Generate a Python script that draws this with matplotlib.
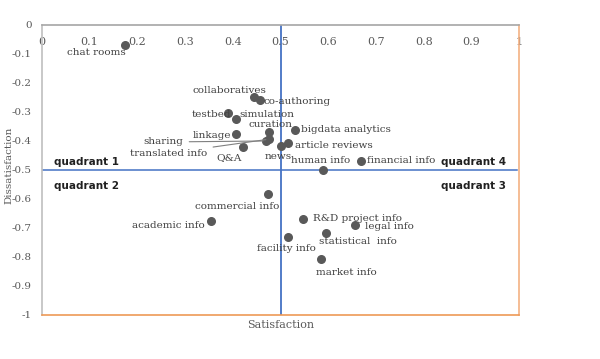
import matplotlib.pyplot as plt

# satisfaction (x) / dissatisfaction (y) per information service
names = ['chat rooms', 'collaboratives', 'co-authoring', 'testbed', 'simulation',
         'linkage', 'curation', 'bigdata analytics', 'sharing', 'translated info',
         'Q&A', 'news', 'article reviews', 'human info', 'financial info',
         'commercial info', 'academic info', 'R&D project info', 'legal info',
         'statistical  info', 'facility info', 'market info']
satisfaction = [0.174, 0.445, 0.458, 0.391, 0.407, 0.406, 0.475, 0.530, 0.469, 0.475,
                0.421, 0.501, 0.515, 0.590, 0.668, 0.473, 0.355, 0.547, 0.656,
                0.595, 0.515, 0.584]
dissatisfaction = [-0.069, -0.250, -0.259, -0.305, -0.325, -0.376, -0.368, -0.362, -0.400, -0.394,
                   -0.421, -0.417, -0.406, -0.500, -0.469, -0.583, -0.677, -0.669, -0.690,
                   -0.718, -0.731, -0.807]

# label placement: offset in pixels from the point, horizontal alignment
label_pos = {
    'chat rooms': (1, -8, 'right'),
    'collaboratives': (-25, 7, 'center'),
    'co-authoring': (3, -1, 'left'),
    'testbed': (3, -1, 'right'),
    'simulation': (3, 5, 'left'),
    'linkage': (-4, -1, 'right'),
    'curation': (2, 7, 'center'),
    'bigdata analytics': (6, 0, 'left'),
    'sharing': (-82, -1, 'right'),
    'translated info': (-61, -14, 'right'),
    'Q&A': (-14, -11, 'center'),
    'news': (-3, -11, 'center'),
    'article reviews': (7, -3, 'left'),
    'human info': (-3, 9, 'center'),
    'financial info': (6, 0, 'left'),
    'commercial info': (-30, -12, 'center'),
    'academic info': (-6, -4, 'right'),
    'R&D project info': (10, 0, 'left'),
    'legal info': (10, -1, 'left'),
    'statistical  info': (32, -8, 'center'),
    'facility info': (-1, -12, 'center'),
    'market info': (26, -13, 'center'),
}
leader = ['sharing', 'translated info']

gray = '#595959'
fig = plt.figure(figsize=(6, 3.59), dpi=100)
ax = fig.add_axes([0.0695, 0.1226, 0.796, 0.8078])

ax.axvline(0.5, color='#4472c4', lw=1.3, zorder=1)
ax.axhline(-0.5, xmin=0, xmax=0.995, color='#4472c4', lw=1.1, zorder=1)

ax.scatter(satisfaction, dissatisfaction, s=30, color=gray, zorder=3)

for n, x, y in zip(names, satisfaction, dissatisfaction):
    dx, dy, ha = label_pos[n]
    arrow = None
    if n in leader:
        arrow = dict(arrowstyle='-', color='#808080', lw=0.8, shrinkA=2, shrinkB=2)
    ax.annotate(n, (x, y), xytext=(dx, dy), textcoords='offset pixels',
                ha=ha, va='center', fontsize=7.5, family='DejaVu Serif',
                color='#404040', arrowprops=arrow, zorder=4)

qfont = dict(fontsize=7.5, family='DejaVu Sans', weight='bold', color='#202020', va='center')
ax.text(0.026, -0.472, 'quadrant 1', ha='left', **qfont)
ax.text(0.026, -0.555, 'quadrant 2', ha='left', **qfont)
ax.text(0.972, -0.472, 'quadrant 4', ha='right', **qfont)
ax.text(0.972, -0.555, 'quadrant 3', ha='right', **qfont)

ax.set_xlim(0, 1)
ax.set_ylim(-1, 0)
xt = [i / 10 for i in range(11)]
yt = [-i / 10 for i in range(11)]
ax.set_xticks(xt)
ax.set_xticklabels(['0'] + ['%.1f' % v for v in xt[1:-1]] + ['1'])
ax.set_yticks(yt)
ax.set_yticklabels(['0'] + ['%.1f' % v for v in yt[1:-1]] + ['-1'])
ax.xaxis.tick_top()
ax.tick_params(axis='x', length=0, pad=-16, labelsize=8, labelcolor=gray)
ax.tick_params(axis='y', length=0, pad=7, labelsize=7.5, labelcolor=gray)
for lab in ax.get_xticklabels() + ax.get_yticklabels():
    lab.set_family('DejaVu Serif')

ax.spines['top'].set_color('#a6a6a6')
ax.spines['left'].set_color('#bfbfbf')
ax.spines['right'].set_color('#f4b183')
ax.spines['bottom'].set_color('#ed9a56')
for s in ax.spines.values():
    s.set_linewidth(1.2)

fig.text(281 / 600, 1 - 325 / 359, 'Satisfaction', ha='center', va='center',
         fontsize=8, family='DejaVu Serif', color=gray)
fig.text(9 / 600, 1 - 165 / 359, 'Dissatisfaction', ha='center', va='center',
         rotation=90, fontsize=7.5, family='DejaVu Serif', color=gray)

fig.savefig('out.png', dpi=100)
